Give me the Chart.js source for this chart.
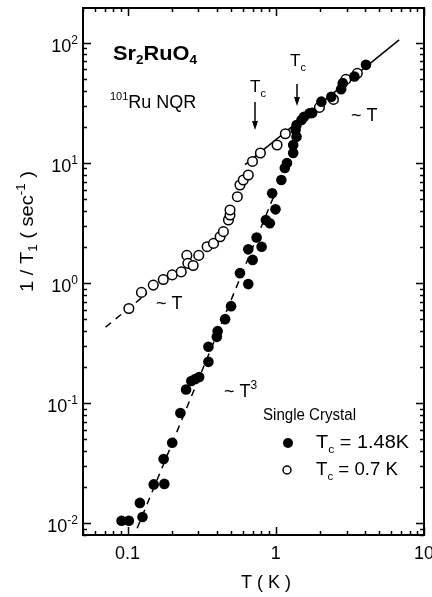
<!DOCTYPE html>
<html>
<head>
<meta charset="utf-8">
<script src="https://cdn.jsdelivr.net/npm/chart.js@4.4.1/dist/chart.umd.min.js"></script>
<style>
  html, body { margin: 0; padding: 0; background: #fff; }
  #wrap { width: 432px; height: 597px; position: relative; }
</style>
</head>
<body>
<div id="wrap"><canvas id="nqrChart"></canvas></div>
<script>
// 101Ru NQR 1/T1 of Sr2RuO4 - log/log scatter

// filled circles: single crystal, Tc = 1.48 K
const filledT = [0.091, 0.102, 0.126, 0.121, 0.150, 0.177, 0.175, 0.200, 0.227, 0.248, 0.269, 0.286, 0.304, 0.351, 0.351, 0.400, 0.405, 0.455, 0.499, 0.573, 0.652, 0.652, 0.698, 0.742, 0.802, 0.857, 0.911, 0.995, 0.945, 1.09, 1.15, 1.19, 1.31, 1.31, 1.38, 1.36, 1.38, 1.49, 1.55, 1.69, 1.76, 2.03, 2.37, 2.76, 2.83, 3.39, 4.06];
const filledRate = [0.0105, 0.0105, 0.0113, 0.0148, 0.0211, 0.0213, 0.0343, 0.0469, 0.083, 0.130, 0.153, 0.159, 0.165, 0.221, 0.295, 0.357, 0.398, 0.501, 0.643, 1.21, 0.981, 1.91, 1.56, 2.40, 2.01, 3.35, 3.15, 4.11, 5.59, 7.21, 9.09, 10.0, 12.1, 14.1, 16.5, 18.8, 20.7, 22.8, 24.2, 25.9, 26.1, 32.4, 35.5, 41.1, 46.2, 52.4, 65.6];

// open circles: single crystal, Tc = 0.7 K
const openT = [0.102, 0.124, 0.149, 0.174, 0.200, 0.230, 0.251, 0.255, 0.277, 0.302, 0.344, 0.380, 0.421, 0.443, 0.479, 0.491, 0.491, 0.550, 0.573, 0.603, 0.652, 0.696, 0.787, 1.02, 1.16, 1.97, 2.45, 2.97, 3.55];
const openRate = [0.615, 0.837, 0.962, 1.07, 1.17, 1.24, 1.70, 1.46, 1.40, 1.70, 2.01, 2.14, 2.43, 2.68, 3.35, 3.69, 4.06, 5.24, 6.56, 7.21, 7.94, 10.3, 12.1, 14.1, 17.5, 29.0, 33.8, 49.6, 55.7];

// guide lines (end points)
const linHighT = [0.62, 6.8];
const linHighRate = [9.7, 106];
const linLowT = [0.071, 0.135];
const linLowRate = [0.43, 0.82];
const cubeT = [0.116, 1.0];
const cubeRate = [0.0091, 5.8];

// axes
const xMin = 0.05, xMax = 10;
const yMin = 0.008, yMax = 195;
const xMajor = [0.1, 1, 10];
const xTickLabels = ['0.1', '1', '10'];
const yMajor = [0.01, 0.1, 1, 10, 100];
const yTickExp = ['-2', '-1', '0', '1', '2'];

const FONT = '"Liberation Sans", Arial, sans-serif';

function pts(xs, ys) {
  return xs.map((v, i) => ({ x: v, y: ys[i] }));
}

function minorTicks(lo, hi) {
  const out = [];
  for (let e = Math.floor(Math.log10(lo)); e <= Math.ceil(Math.log10(hi)); e++) {
    for (let k = 1; k <= 9; k++) {
      const v = k * Math.pow(10, e);
      if (v >= lo * 0.999 && v <= hi * 1.001) out.push({ v, major: k === 1 });
    }
  }
  return out;
}

// draw text pieces [text, size, dy, bold]
function runs(ctx, x, y, parts, measureOnly) {
  for (const [t, size, dy, bold] of parts) {
    ctx.font = (bold ? 'bold ' : '') + size + 'px ' + FONT;
    if (!measureOnly) ctx.fillText(t, x, y + (dy || 0));
    x += ctx.measureText(t).width;
  }
  return x;
}

// same, squeezed/stretched to a given width
function runsWidth(ctx, x, y, parts, width) {
  const w = runs(ctx, 0, 0, parts, true);
  ctx.save();
  ctx.translate(x, y);
  ctx.scale(width / w, 1);
  runs(ctx, 0, 0, parts);
  ctx.restore();
}

const framePlugin = {
  id: 'framePlugin',
  afterDraw(chart) {
    const { ctx, chartArea: a, scales: { x, y } } = chart;
    ctx.save();
    ctx.strokeStyle = '#000';
    ctx.fillStyle = '#000';
    ctx.textBaseline = 'alphabetic';
    ctx.textAlign = 'left';

    // frame
    ctx.lineWidth = 2;
    ctx.strokeRect(a.left, a.top, a.right - a.left, a.bottom - a.top);

    // ticks, inward on all four sides
    ctx.lineWidth = 1.5;
    ctx.beginPath();
    minorTicks(xMin, xMax).forEach(t => {
      const px = Math.round(x.getPixelForValue(t.v)) + 0.5;
      const len = t.major ? 8 : 4;
      ctx.moveTo(px, a.bottom); ctx.lineTo(px, a.bottom - len);
      ctx.moveTo(px, a.top); ctx.lineTo(px, a.top + len);
    });
    minorTicks(yMin, yMax).forEach(t => {
      const py = Math.round(y.getPixelForValue(t.v)) + 0.5;
      const len = t.major ? 8 : 4;
      ctx.moveTo(a.left, py); ctx.lineTo(a.left + len, py);
      ctx.moveTo(a.right, py); ctx.lineTo(a.right - len, py);
    });
    ctx.stroke();

    // x tick labels
    ctx.font = '18px ' + FONT;
    ctx.textAlign = 'center';
    xMajor.forEach((v, i) => {
      ctx.fillText(xTickLabels[i], x.getPixelForValue(v), a.bottom + 24);
    });
    ctx.textAlign = 'left';

    // y tick labels 10^n
    yMajor.forEach((v, i) => {
      const parts = [['10', 18, 0], [yTickExp[i], 12, -8]];
      const w = runs(ctx, 0, 0, parts, true);
      runs(ctx, a.left - 5 - w, y.getPixelForValue(v) + 9, parts);
    });

    // axis titles
    ctx.font = '18px ' + FONT;
    ctx.textAlign = 'center';
    ctx.fillText('T ( K )', 266, 588);
    ctx.textAlign = 'left';

    ctx.save();
    ctx.translate(33, 292);
    ctx.rotate(-Math.PI / 2);
    runsWidth(ctx, 0, 0, [['1 / T', 18, 0], ['1', 12, 4], [' ( sec', 18, 0], ['-1', 12, -8], [' )', 18, 0]], 121);
    ctx.restore();

    // labels inside the plot
    runsWidth(ctx, 113, 60, [['Sr', 21, 0, true], ['2', 13, 4, true], ['RuO', 21, 0, true], ['4', 13, 4, true]], 84);
    runs(ctx, 110, 108, [['101', 11, -8], ['Ru NQR', 18, 0]]);

    runs(ctx, 250, 92, [['T', 17, 0], ['c', 11, 5]]);
    runs(ctx, 290, 66, [['T', 17, 0], ['c', 11, 5]]);
    runs(ctx, 351, 121, [['~ T', 18, 0]]);
    runs(ctx, 156, 309, [['~ T', 18, 0]]);
    runs(ctx, 224, 397, [['~ T', 18, 0], ['3', 12, -8]]);

    // Tc arrows
    [[255, 102, 130], [297, 84, 106]].forEach(([ax, y0, y1]) => {
      ctx.lineWidth = 1.5;
      ctx.beginPath();
      ctx.moveTo(ax, y0); ctx.lineTo(ax, y1 - 6);
      ctx.stroke();
      ctx.beginPath();
      ctx.moveTo(ax - 3, y1 - 9); ctx.lineTo(ax + 3, y1 - 9); ctx.lineTo(ax, y1);
      ctx.closePath();
      ctx.fill();
    });

    // legend
    runsWidth(ctx, 263, 420, [['Single Crystal', 16, 0]], 93);
    ctx.beginPath();
    ctx.arc(288, 443, 5, 0, Math.PI * 2);
    ctx.fill();
    runsWidth(ctx, 316, 448, [['T', 18, 0], ['c', 11, 5], [' = 1.48K', 18, 0]], 93);
    ctx.beginPath();
    ctx.lineWidth = 1.5;
    ctx.arc(287, 470, 4, 0, Math.PI * 2);
    ctx.stroke();
    runsWidth(ctx, 316, 475, [['T', 18, 0], ['c', 11, 5], [' = 0.7 K', 18, 0]], 82);

    ctx.restore();
  }
};

new Chart(document.getElementById('nqrChart'), {
  type: 'scatter',
  data: {
    datasets: [
      {
        label: 'Tc = 1.48K',
        data: pts(filledT, filledRate),
        backgroundColor: '#000',
        borderColor: '#000',
        borderWidth: 0,
        pointRadius: 5.3
      },
      {
        label: 'Tc = 0.7 K',
        data: pts(openT, openRate),
        backgroundColor: '#fff',
        borderColor: '#000',
        borderWidth: 1.5,
        pointRadius: 4.8
      },
      {
        label: '~T (high)',
        data: pts(linHighT, linHighRate),
        showLine: true,
        borderColor: '#000',
        borderWidth: 1.5,
        pointRadius: 0
      },
      {
        label: '~T (low)',
        data: pts(linLowT, linLowRate),
        showLine: true,
        borderColor: '#000',
        borderWidth: 1.5,
        borderDash: [7, 6],
        pointRadius: 0
      },
      {
        label: '~T^3',
        data: pts(cubeT, cubeRate),
        showLine: true,
        borderColor: '#000',
        borderWidth: 1.5,
        borderDash: [7, 6],
        pointRadius: 0
      }
    ]
  },
  options: {
    responsive: true,
    maintainAspectRatio: false,
    animation: false,
    layout: { padding: { left: 83, top: 8, right: 8, bottom: 62 } },
    plugins: {
      legend: { display: false },
      tooltip: { enabled: false }
    },
    scales: {
      x: { type: 'logarithmic', min: xMin, max: xMax, display: false },
      y: { type: 'logarithmic', min: yMin, max: yMax, display: false }
    }
  },
  plugins: [framePlugin]
});
</script>
</body>
</html>
